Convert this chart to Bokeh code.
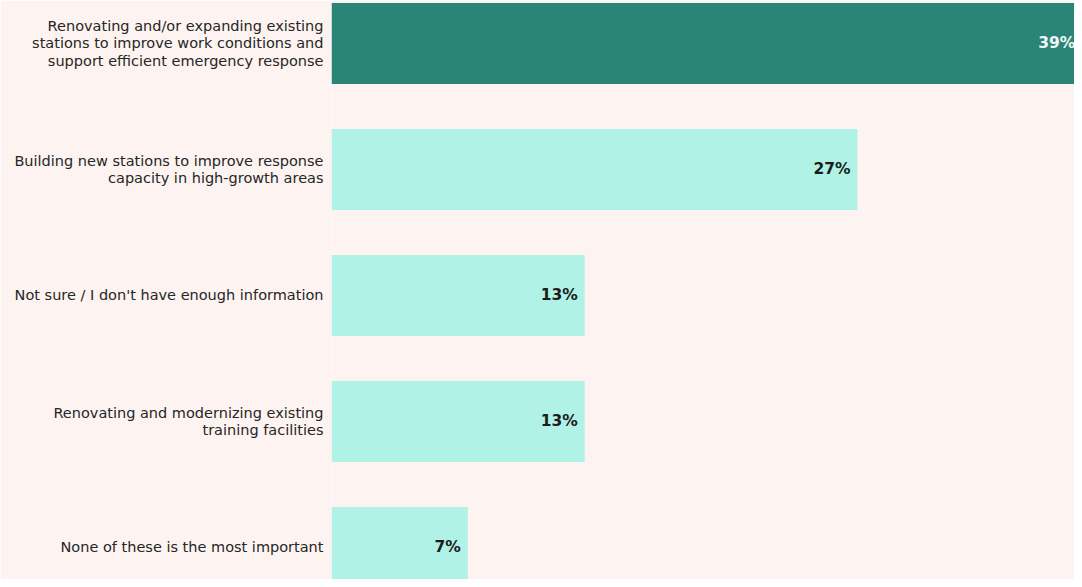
from bokeh.plotting import figure
from bokeh.models import Range1d, FixedTicker, ColumnDataSource
from bokeh.core.properties import value
from bokeh.embed import file_html
from bokeh.resources import INLINE

categories = [
    "Renovating and/or expanding existing\nstations to improve work conditions and\nsupport efficient emergency response",
    "Building new stations to improve response\ncapacity in high-growth areas",
    "Not sure / I don't have enough information",
    "Renovating and modernizing existing\ntraining facilities",
    "None of these is the most important",
]
values = [39, 27, 13, 13, 7]
bar_colors = ["#2a8577", "#b0f3e6", "#b0f3e6", "#b0f3e6", "#b0f3e6"]
text_colors = ["#eef7f5", "#1c1c1c", "#1c1c1c", "#1c1c1c", "#1c1c1c"]
label_offsets = [-16, -7, -7, -7, -7]

BG = "#fdf4f1"
FONT = "DejaVu Sans"

pos = list(range(len(categories)))
src = ColumnDataSource(dict(
    y=pos, v=values, c=bar_colors, tc=text_colors, xo=label_offsets,
    lab=[f"{v}%" for v in values],
))

p = figure(width=1074, height=579, output_backend="svg", toolbar_location=None,
           x_range=Range1d(0, 38.14), y_range=Range1d(4.254, -0.341),
           min_border_left=331, min_border_right=0, min_border_top=0, min_border_bottom=0,
           background_fill_color=BG, border_fill_color=BG)
p.outline_line_color = None
p.grid.visible = False
p.xaxis.visible = False

p.hbar(y="y", right="v", left=0, height=0.643, fill_color="c", line_color=None, source=src)
p.text(x="v", y="y", text="lab", x_offset="xo", text_align="right", text_baseline="middle",
       text_font=value(FONT), text_font_style="bold", text_font_size="15.5px",
       text_color="tc", source=src)

ax = p.yaxis[0]
ax.ticker = FixedTicker(ticks=pos)
ax.major_label_overrides = {i: c for i, c in zip(pos, categories)}
ax.axis_line_color = None
ax.major_tick_line_color = None
ax.minor_tick_line_color = None
ax.major_tick_out = 0
ax.major_label_standoff = 8
ax.major_label_text_font = FONT
ax.major_label_text_font_size = "14.5px"
ax.major_label_text_line_height = 1.12
ax.major_label_text_color = "#262626"

open("out.html", "w").write(file_html(p, INLINE))
